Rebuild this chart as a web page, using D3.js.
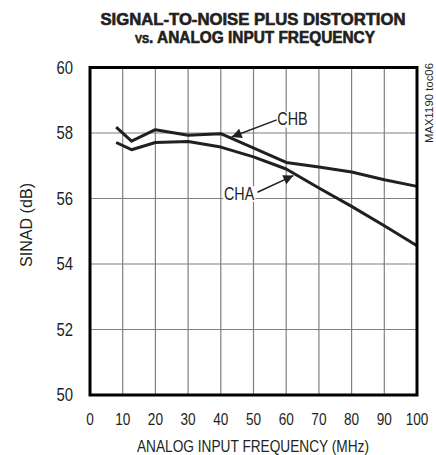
<!DOCTYPE html>
<html><head><meta charset="utf-8">
<script src="https://cdn.jsdelivr.net/npm/d3@7"></script>
<style>
body{margin:0;background:#fff;}
text{font-family:"Liberation Sans",Arial,Helvetica,sans-serif;fill:#231f20;}
</style></head>
<body><svg id="c" width="436" height="455"></svg>
<script>
const freqA = [8, 12.7, 20, 30, 40, 50, 60, 70, 80, 90, 100];
const cha   = [57.71, 57.49, 57.71, 57.74, 57.57, 57.27, 56.9, 56.32, 55.76, 55.17, 54.56];
const freqB = [8, 12.7, 20, 30, 40, 60, 70, 80, 90, 100];
const chb   = [58.18, 57.75, 58.1, 57.93, 57.98, 57.1, 56.96, 56.81, 56.57, 56.37];
const xTicks = [0,10,20,30,40,50,60,70,80,90,100];
const yTicks = [50,52,54,56,58,60];
const titleLine1 = "SIGNAL-TO-NOISE PLUS DISTORTION";
const titleVs = "vs.";
const titleLine2 = " ANALOG INPUT FREQUENCY";
const xTitle = "ANALOG INPUT FREQUENCY (MHz)";
const yTitle = "SINAD (dB)";
const watermark = "MAX1190 toc06";
// annotations in data units: label position, arrow start, arrow tip
const labels = [
  {name:"CHB", at:[61.9,58.43], from:[57.1,58.4], to:[43.3,57.88]},
  {name:"CHA", at:[45.6,56.16], from:[51.2,56.19], to:[62.2,56.7]}
];

const svg = d3.select("#c");
const L=90,R=417,T=67.5,B=395;
const x = d3.scaleLinear().domain([0,100]).range([L,R]);
const y = d3.scaleLinear().domain([50,60]).range([B,T]);
const SX = 0.82;

svg.append("defs").append("marker").attr("id","ah").attr("viewBox","0 0 10 10")
  .attr("refX",10).attr("refY",5).attr("markerWidth",16).attr("markerHeight",10)
  .attr("markerUnits","userSpaceOnUse").attr("orient","auto")
  .append("path").attr("d","M0,0L10,5L0,10Z").attr("fill","#231f20");

function ntext(px, py, str, size, anchor, sx){
  const gg = svg.append("g").attr("transform",`translate(${px},${py}) scale(${sx||SX},1)`);
  const t = gg.append("text").attr("x",0).attr("y",0).attr("text-anchor",anchor||"middle")
    .attr("font-size",size).text(str);
  return {g:gg,t:t};
}

// grid
const g = svg.append("g");
g.selectAll(".vx").data(xTicks.slice(1,-1)).join("line")
  .attr("x1",d=>x(d)).attr("x2",d=>x(d)).attr("y1",T).attr("y2",B)
  .attr("stroke","#808080").attr("stroke-width",1.2);
g.selectAll(".hy").data(yTicks.slice(1,-1)).join("line")
  .attr("y1",d=>y(d)).attr("y2",d=>y(d)).attr("x1",L).attr("x2",R)
  .attr("stroke","#808080").attr("stroke-width",1.2);

// tick labels
xTicks.forEach(d=>ntext(x(d),425,d,16,"middle",0.85));
yTicks.forEach(d=>ntext(73,y(d)+6.3,d,17.5,"end",0.85));

// axis titles
svg.append("text").attr("x",253).attr("y",452).attr("text-anchor","middle")
  .attr("font-size",16).attr("textLength",232).attr("lengthAdjust","spacingAndGlyphs").text(xTitle);
svg.append("text").attr("transform","translate(32,225) rotate(-90)")
  .attr("text-anchor","middle").attr("font-size",16)
  .attr("textLength",84).attr("lengthAdjust","spacingAndGlyphs").text(yTitle);

// title
svg.append("text").attr("x",253).attr("y",24.5).attr("text-anchor","middle")
  .attr("font-size",16).attr("font-weight","bold")
  .attr("stroke","#231f20").attr("stroke-width",0.6)
  .attr("textLength",305).attr("lengthAdjust","spacingAndGlyphs").text(titleLine1);
const t2 = svg.append("text").attr("x",255).attr("y",42.5).attr("text-anchor","middle")
  .attr("font-size",16).attr("font-weight","bold")
  .attr("stroke","#231f20").attr("stroke-width",0.6)
  .attr("textLength",240).attr("lengthAdjust","spacingAndGlyphs");
t2.append("tspan").style("font-variant","small-caps").text(titleVs);
t2.append("tspan").text(titleLine2);

// watermark
svg.append("text").attr("transform","translate(432.5,103) rotate(-90)")
  .attr("text-anchor","middle").attr("font-size",10)
  .attr("textLength",80).attr("lengthAdjust","spacingAndGlyphs").text(watermark);

// lines
const line = d3.line().x(d=>x(d[0])).y(d=>y(d[1]));
svg.append("path").datum(freqB.map((f,i)=>[f,chb[i]])).attr("d",line)
  .attr("fill","none").attr("stroke","#231f20").attr("stroke-width",3).attr("stroke-linejoin","round");
svg.append("path").datum(freqA.map((f,i)=>[f,cha[i]])).attr("d",line)
  .attr("fill","none").attr("stroke","#231f20").attr("stroke-width",3).attr("stroke-linejoin","round");

// frame
svg.append("rect").attr("x",L).attr("y",T).attr("width",R-L).attr("height",B-T)
  .attr("fill","none").attr("stroke","#000").attr("stroke-width",3);

// annotations
labels.forEach(a=>{
  const n = ntext(x(a.at[0]), y(a.at[1])+6.3, a.name, 17.5, "middle", 0.82);
  const bb = n.t.node().getBBox();
  n.g.insert("rect","text").attr("x",bb.x-1).attr("y",bb.y+2)
    .attr("width",bb.width+2).attr("height",bb.height-3).attr("fill","#fff");
  svg.append("line").attr("x1",x(a.from[0])).attr("y1",y(a.from[1]))
    .attr("x2",x(a.to[0])).attr("y2",y(a.to[1]))
    .attr("stroke","#231f20").attr("stroke-width",1.5).attr("marker-end","url(#ah)");
});
</script></body></html>
